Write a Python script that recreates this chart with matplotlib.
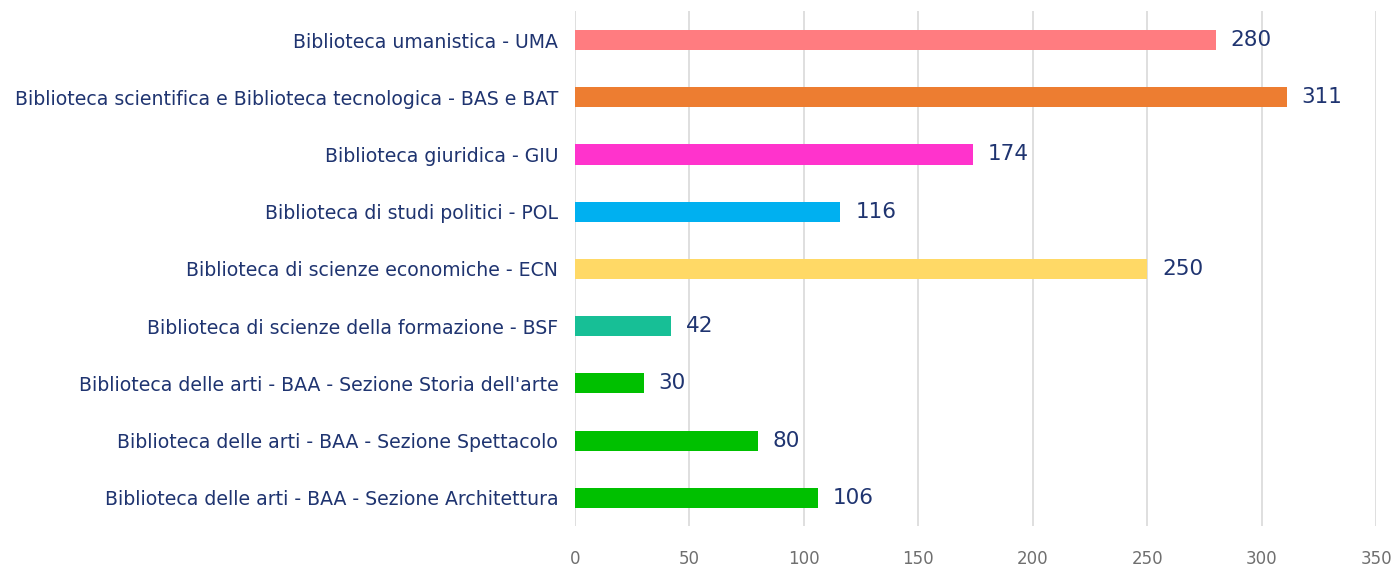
import matplotlib
matplotlib.use("Agg")
import matplotlib.pyplot as plt

categories = [
    "Biblioteca umanistica - UMA",
    "Biblioteca scientifica e Biblioteca tecnologica - BAS e BAT",
    "Biblioteca giuridica - GIU",
    "Biblioteca di studi politici - POL",
    "Biblioteca di scienze economiche - ECN",
    "Biblioteca di scienze della formazione - BSF",
    "Biblioteca delle arti - BAA - Sezione Storia dell'arte",
    "Biblioteca delle arti - BAA - Sezione Spettacolo",
    "Biblioteca delle arti - BAA - Sezione Architettura",
]
values = [280, 311, 174, 116, 250, 42, 30, 80, 106]
colors = ["#FF7C80", "#ED7D31", "#FF33CC", "#00B0F0", "#FFD966",
          "#17BF96", "#00C000", "#00C000", "#00C000"]
xticks = [0, 50, 100, 150, 200, 250, 300, 350]

navy = "#1F3470"
fig = plt.figure(figsize=(13.97, 5.71), dpi=100)
ax = fig.add_axes([0.4116, 0.078, 0.985 - 0.4116, 0.902])

y = list(range(len(categories)))
ax.barh(y, values, height=0.35, color=colors, zorder=3)
ax.set_ylim(len(categories) - 0.5, -0.5)
ax.set_xlim(0, 350)
ax.set_xticks(xticks)
ax.set_xticklabels([str(t) for t in xticks], color="#6F6F6F", fontsize=12)
ax.set_yticks(y)
ax.set_yticklabels(categories, color=navy, fontsize=13.6)
ax.tick_params(axis="both", length=0)
ax.tick_params(axis="y", pad=12)
ax.tick_params(axis="x", pad=17)
ax.grid(axis="x", color="#D9D9D9", linewidth=1.2, zorder=0)
for s in ax.spines.values():
    s.set_visible(False)

for yi, v in zip(y, values):
    ax.text(v + 6.5, yi, str(v), va="center", ha="left", color=navy,
            fontsize=15.5)

fig.savefig("out.png", dpi=100)
